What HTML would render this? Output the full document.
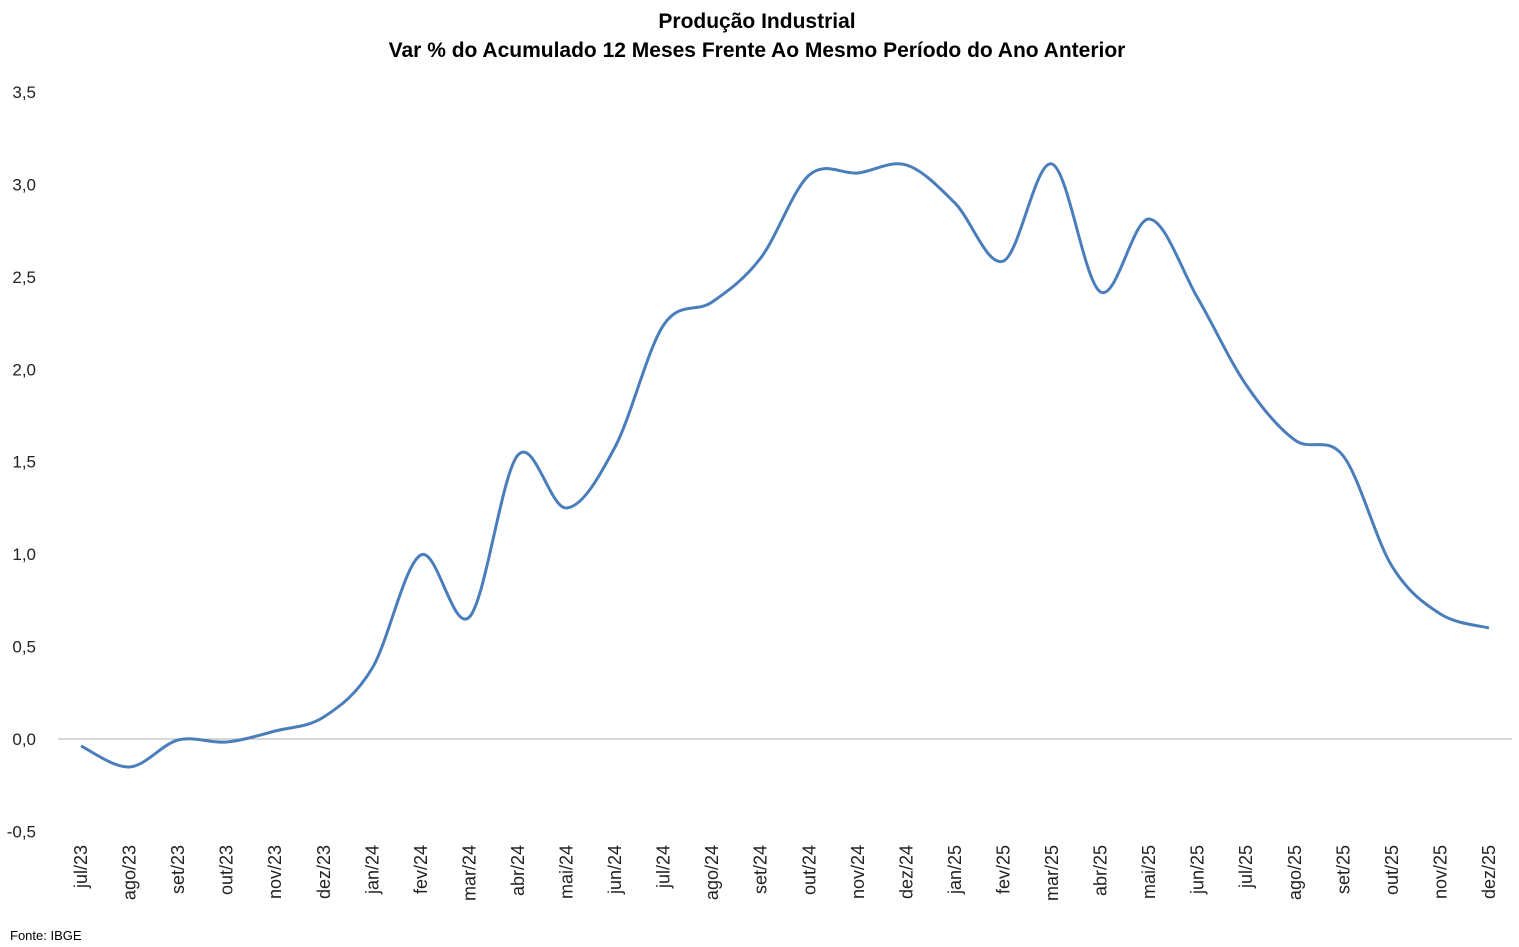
<!DOCTYPE html>
<html><head><meta charset="utf-8"><style>body{margin:0;background:#fff}svg{display:block}</style></head>
<body>
<svg id="s" width="1519" height="947" xmlns="http://www.w3.org/2000/svg" font-family="Liberation Sans, sans-serif">
<text x="757" y="28" text-anchor="middle" font-size="21" font-weight="bold" fill="#000">Produção Industrial</text>
<text x="757" y="57" text-anchor="middle" font-size="21" font-weight="bold" fill="#000">Var % do Acumulado 12 Meses Frente Ao Mesmo Período do Ano Anterior</text>
<line x1="58" y1="739" x2="1512" y2="739" stroke="#b0b0b0" stroke-width="1"/>
<g id="yl" font-size="17" fill="#222" text-anchor="end"></g>
<g id="xl" font-size="18" fill="#222"></g>
<path id="p" fill="none" stroke="#4a7ebb" stroke-width="3"/>
<text x="10" y="940" font-size="13" fill="#000">Fonte: IBGE</text>
</svg>
<script>
var ys=[746,767,740,742,731,717,668,555,617,455,508,447,325,302,258,175,173,165,203,261,164,292,219,298,385,440,456,566,614,628];
var m=["jul/23","ago/23","set/23","out/23","nov/23","dez/23","jan/24","fev/24","mar/24","abr/24","mai/24","jun/24","jul/24","ago/24","set/24","out/24","nov/24","dez/24","jan/25","fev/25","mar/25","abr/25","mai/25","jun/25","jul/25","ago/25","set/25","out/25","nov/25","dez/25"];
var pts=ys.map((y,i)=>[81+i*48.55,y]);
var d="M"+pts[0][0]+","+pts[0][1];
for(var i=0;i<pts.length-1;i++){var p0=pts[Math.max(0,i-1)],p1=pts[i],p2=pts[i+1],p3=pts[Math.min(pts.length-1,i+2)];
var t=1/6;d+=" C"+(p1[0]+(p2[0]-p0[0])*t)+","+(p1[1]+(p2[1]-p0[1])*t)+" "+(p2[0]-(p3[0]-p1[0])*t)+","+(p2[1]-(p3[1]-p1[1])*t)+" "+p2[0]+","+p2[1];}
document.getElementById("p").setAttribute("d",d);
var NS="http://www.w3.org/2000/svg";
var xl=document.getElementById("xl");
m.forEach((s,i)=>{var e=document.createElementNS(NS,"text");var x=81+i*48.55+6;e.setAttribute("transform","translate("+x+",845) rotate(-90)");e.setAttribute("text-anchor","end");e.textContent=s;xl.appendChild(e);});
var yl=document.getElementById("yl");
["3,5","3,0","2,5","2,0","1,5","1,0","0,5","0,0","-0,5"].forEach((s,i)=>{var e=document.createElementNS(NS,"text");e.setAttribute("x",36);e.setAttribute("y",92+i*92.43+6);e.textContent=s;yl.appendChild(e);});
</script>
</body></html>
